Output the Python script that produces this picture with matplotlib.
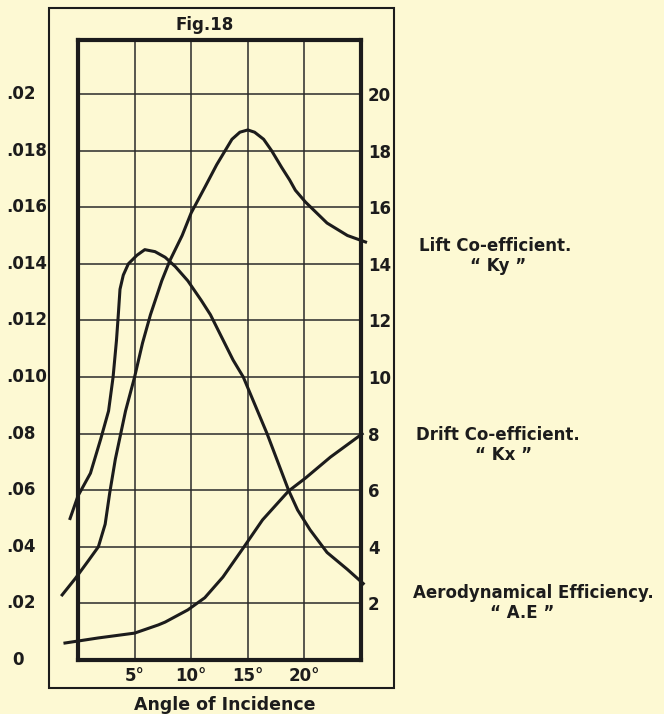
import matplotlib.pyplot as plt
from matplotlib.patches import Rectangle
from matplotlib import transforms

# colours of the scanned page
paper = '#fdf9d3'
ink = '#1c1c1c'

# axis labels as printed in the book
x_ticks = [5, 10, 15, 20]
x_labels = ['5°', '10°', '15°', '20°']
right_ticks = [2, 4, 6, 8, 10, 12, 14, 16, 18, 20]
right_labels = ['2', '4', '6', '8', '10', '12', '14', '16', '18', '20']
left_ticks = [0, 2, 4, 6, 8, 10, 12, 14, 16, 18, 20]
left_labels = ['0', '.02', '.04', '.06', '.08', '.010', '.012', '.014', '.016', '.018', '.02']

# Lift co-efficient "Ky"
lift_x = [-1.4, -0.2, 0.9, 1.8, 2.4, 2.8, 3.3, 4.2, 5.0, 5.7, 6.4, 7.4, 8.1, 9.2, 10.0,
          11.2, 12.25, 13.0, 13.6, 14.3, 15.0, 15.6, 16.4, 17.1, 18.0, 18.7, 19.2,
          20.1, 22.0, 23.8, 25.4]
lift_y = [2.3, 2.9, 3.5, 4.0, 4.8, 5.9, 7.1, 8.8, 10.0, 11.2, 12.2, 13.4, 14.1, 15.0, 15.8,
          16.7, 17.5, 18.0, 18.4, 18.65, 18.73, 18.65, 18.4, 18.0, 17.4, 16.96, 16.6,
          16.18, 15.44, 15.0, 14.77]

# Aerodynamical efficiency "A.E"
ae_x = [-0.7, 0.0, 1.1, 2.0, 2.7, 3.1, 3.4, 3.56, 3.71, 4.0, 4.45, 5.2, 5.9, 6.8, 7.7, 8.6,
        9.7, 10.9, 11.7, 12.7, 13.7, 14.6, 16.7, 18.6, 19.4, 20.5, 22.0, 23.8, 25.2]
ae_y = [5.0, 5.8, 6.6, 7.8, 8.8, 10.0, 11.3, 12.2, 13.1, 13.6, 14.0, 14.3, 14.5, 14.43, 14.23, 13.9,
        13.4, 12.7, 12.2, 11.4, 10.6, 10.0, 8.0, 6.0, 5.3, 4.6, 3.8, 3.2, 2.7]

# Drift co-efficient "Kx"
drift_x = [-1.15, 1.8, 5.0, 7.1, 7.7, 9.7, 11.2, 12.8, 14.6, 16.3, 18.6, 20.1, 22.3, 25.1]
drift_y = [0.60, 0.78, 0.95, 1.24, 1.34, 1.77, 2.20, 2.93, 3.96, 4.95, 5.97, 6.43, 7.17, 7.99]

W, H = 664, 714
fig = plt.figure(figsize=(W / 100, H / 100), dpi=100, facecolor=paper)

# plot box in pixels: x 78..361, y 40..660
ax = fig.add_axes([78 / W, 1 - 660 / H, 283 / W, 620 / H])
ax.set_facecolor(paper)
ax.set_xlim(0, 25)
ax.set_ylim(0, 620 / 28.3)

ax.set_xticks(x_ticks)
ax.set_xticklabels(x_labels, fontsize=12, fontweight='bold')
ax.set_yticks(right_ticks)
ax.set_yticklabels(right_labels, fontsize=12, fontweight='bold')
ax.tick_params(axis='both', length=0, colors=ink)
ax.tick_params(axis='x', pad=5)
ax.tick_params(axis='y', left=False, labelleft=False, right=False, labelright=True, pad=5)
ax.grid(True, color='#2a2a2a', lw=1.1)
for s in ax.spines.values():
    s.set_linewidth(3)
    s.set_color(ink)

for xs, ys in [(lift_x, lift_y), (ae_x, ae_y), (drift_x, drift_y)]:
    ax.plot(xs, ys, color=ink, lw=2.2, clip_on=False, solid_joinstyle='round', zorder=3)

# left scale, printed outside the outer frame
tr = transforms.blended_transform_factory(fig.transFigure, ax.transData)
for v, lab in zip(left_ticks, left_labels):
    xpos = 12 / W if lab == '0' else 6 / W
    ax.text(xpos, v, lab, transform=tr, ha='left', va='center',
            fontsize=12, fontweight='bold', color=ink)

# outer frame
fig.patches.append(Rectangle((49 / W, 1 - 688 / H), 345 / W, 680 / H, transform=fig.transFigure,
                             fill=False, lw=1.5, edgecolor=ink))

fig.text(205 / W, 1 - 25 / H, 'Fig.18', ha='center', va='center', fontsize=12,
         fontweight='bold', color=ink)
fig.text(225 / W, 1 - 705 / H, 'Angle of Incidence', ha='center', va='center', fontsize=12.5,
         fontweight='bold', color=ink)

# curve names on the right
names = [('Lift Co-efficient.', 495, 246), ('“ Ky ”', 498, 266),
         ('Drift Co-efficient.', 498, 435), ('“ Kx ”', 504, 455),
         ('Aerodynamical Efficiency.', 533, 593), ('“ A.E ”', 522, 613)]
for txt, px, py in names:
    fig.text(px / W, 1 - py / H, txt, ha='center', va='center', fontsize=12,
             fontweight='bold', color=ink)

fig.savefig('out.png', dpi=100, facecolor=paper)
